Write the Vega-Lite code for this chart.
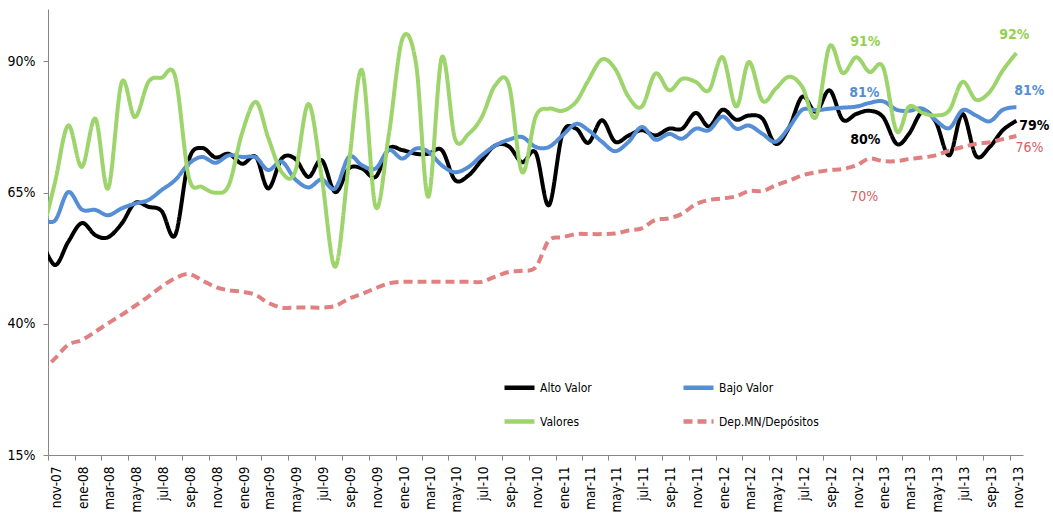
{
  "$schema": "https://vega.github.io/schema/vega-lite/v6.json",
  "width": 975,
  "height": 446,
  "autosize": {"type": "none"},
  "padding": {"left": 48, "top": 9, "right": 30, "bottom": 65},
  "background": "white",
  "config": {
    "view": {"stroke": null},
    "font": "Liberation Sans Narrow, Arial Narrow, DejaVu Sans Condensed, sans-serif"
  },
  "data": {
    "values": [
      {"fecha": "2007-10-01", "serie": "Alto Valor", "valor": 0.560},
      {"fecha": "2007-11-01", "serie": "Alto Valor", "valor": 0.512},
      {"fecha": "2007-12-01", "serie": "Alto Valor", "valor": 0.556},
      {"fecha": "2008-01-01", "serie": "Alto Valor", "valor": 0.592},
      {"fecha": "2008-02-01", "serie": "Alto Valor", "valor": 0.569},
      {"fecha": "2008-03-01", "serie": "Alto Valor", "valor": 0.565},
      {"fecha": "2008-04-01", "serie": "Alto Valor", "valor": 0.591},
      {"fecha": "2008-05-01", "serie": "Alto Valor", "valor": 0.630},
      {"fecha": "2008-06-01", "serie": "Alto Valor", "valor": 0.623},
      {"fecha": "2008-07-01", "serie": "Alto Valor", "valor": 0.615},
      {"fecha": "2008-08-01", "serie": "Alto Valor", "valor": 0.569},
      {"fecha": "2008-09-01", "serie": "Alto Valor", "valor": 0.712},
      {"fecha": "2008-10-01", "serie": "Alto Valor", "valor": 0.735},
      {"fecha": "2008-11-01", "serie": "Alto Valor", "valor": 0.717},
      {"fecha": "2008-12-01", "serie": "Alto Valor", "valor": 0.724},
      {"fecha": "2009-01-01", "serie": "Alto Valor", "valor": 0.705},
      {"fecha": "2009-02-01", "serie": "Alto Valor", "valor": 0.718},
      {"fecha": "2009-03-01", "serie": "Alto Valor", "valor": 0.658},
      {"fecha": "2009-04-01", "serie": "Alto Valor", "valor": 0.715},
      {"fecha": "2009-05-01", "serie": "Alto Valor", "valor": 0.715},
      {"fecha": "2009-06-01", "serie": "Alto Valor", "valor": 0.680},
      {"fecha": "2009-07-01", "serie": "Alto Valor", "valor": 0.712},
      {"fecha": "2009-08-01", "serie": "Alto Valor", "valor": 0.651},
      {"fecha": "2009-09-01", "serie": "Alto Valor", "valor": 0.696},
      {"fecha": "2009-10-01", "serie": "Alto Valor", "valor": 0.696},
      {"fecha": "2009-11-01", "serie": "Alto Valor", "valor": 0.680},
      {"fecha": "2009-12-01", "serie": "Alto Valor", "valor": 0.734},
      {"fecha": "2010-01-01", "serie": "Alto Valor", "valor": 0.731},
      {"fecha": "2010-02-01", "serie": "Alto Valor", "valor": 0.724},
      {"fecha": "2010-03-01", "serie": "Alto Valor", "valor": 0.724},
      {"fecha": "2010-04-01", "serie": "Alto Valor", "valor": 0.731},
      {"fecha": "2010-05-01", "serie": "Alto Valor", "valor": 0.674},
      {"fecha": "2010-06-01", "serie": "Alto Valor", "valor": 0.683},
      {"fecha": "2010-07-01", "serie": "Alto Valor", "valor": 0.712},
      {"fecha": "2010-08-01", "serie": "Alto Valor", "valor": 0.740},
      {"fecha": "2010-09-01", "serie": "Alto Valor", "valor": 0.738},
      {"fecha": "2010-10-01", "serie": "Alto Valor", "valor": 0.708},
      {"fecha": "2010-11-01", "serie": "Alto Valor", "valor": 0.726},
      {"fecha": "2010-12-01", "serie": "Alto Valor", "valor": 0.626},
      {"fecha": "2011-01-01", "serie": "Alto Valor", "valor": 0.762},
      {"fecha": "2011-02-01", "serie": "Alto Valor", "valor": 0.772},
      {"fecha": "2011-03-01", "serie": "Alto Valor", "valor": 0.745},
      {"fecha": "2011-04-01", "serie": "Alto Valor", "valor": 0.788},
      {"fecha": "2011-05-01", "serie": "Alto Valor", "valor": 0.747},
      {"fecha": "2011-06-01", "serie": "Alto Valor", "valor": 0.759},
      {"fecha": "2011-07-01", "serie": "Alto Valor", "valor": 0.769},
      {"fecha": "2011-08-01", "serie": "Alto Valor", "valor": 0.759},
      {"fecha": "2011-09-01", "serie": "Alto Valor", "valor": 0.772},
      {"fecha": "2011-10-01", "serie": "Alto Valor", "valor": 0.772},
      {"fecha": "2011-11-01", "serie": "Alto Valor", "valor": 0.802},
      {"fecha": "2011-12-01", "serie": "Alto Valor", "valor": 0.776},
      {"fecha": "2012-01-01", "serie": "Alto Valor", "valor": 0.808},
      {"fecha": "2012-02-01", "serie": "Alto Valor", "valor": 0.789},
      {"fecha": "2012-03-01", "serie": "Alto Valor", "valor": 0.797},
      {"fecha": "2012-04-01", "serie": "Alto Valor", "valor": 0.791},
      {"fecha": "2012-05-01", "serie": "Alto Valor", "valor": 0.743},
      {"fecha": "2012-06-01", "serie": "Alto Valor", "valor": 0.775},
      {"fecha": "2012-07-01", "serie": "Alto Valor", "valor": 0.833},
      {"fecha": "2012-08-01", "serie": "Alto Valor", "valor": 0.804},
      {"fecha": "2012-09-01", "serie": "Alto Valor", "valor": 0.845},
      {"fecha": "2012-10-01", "serie": "Alto Valor", "valor": 0.789},
      {"fecha": "2012-11-01", "serie": "Alto Valor", "valor": 0.800},
      {"fecha": "2012-12-01", "serie": "Alto Valor", "valor": 0.806},
      {"fecha": "2013-01-01", "serie": "Alto Valor", "valor": 0.794},
      {"fecha": "2013-02-01", "serie": "Alto Valor", "valor": 0.743},
      {"fecha": "2013-03-01", "serie": "Alto Valor", "valor": 0.762},
      {"fecha": "2013-04-01", "serie": "Alto Valor", "valor": 0.805},
      {"fecha": "2013-05-01", "serie": "Alto Valor", "valor": 0.785},
      {"fecha": "2013-06-01", "serie": "Alto Valor", "valor": 0.721},
      {"fecha": "2013-07-01", "serie": "Alto Valor", "valor": 0.800},
      {"fecha": "2013-08-01", "serie": "Alto Valor", "valor": 0.720},
      {"fecha": "2013-09-01", "serie": "Alto Valor", "valor": 0.737},
      {"fecha": "2013-10-01", "serie": "Alto Valor", "valor": 0.769},
      {"fecha": "2013-11-01", "serie": "Alto Valor", "valor": 0.787},

      {"fecha": "2007-10-01", "serie": "Bajo Valor", "valor": 0.600},
      {"fecha": "2007-11-01", "serie": "Bajo Valor", "valor": 0.597},
      {"fecha": "2007-12-01", "serie": "Bajo Valor", "valor": 0.651},
      {"fecha": "2008-01-01", "serie": "Bajo Valor", "valor": 0.618},
      {"fecha": "2008-02-01", "serie": "Bajo Valor", "valor": 0.617},
      {"fecha": "2008-03-01", "serie": "Bajo Valor", "valor": 0.607},
      {"fecha": "2008-04-01", "serie": "Bajo Valor", "valor": 0.620},
      {"fecha": "2008-05-01", "serie": "Bajo Valor", "valor": 0.629},
      {"fecha": "2008-06-01", "serie": "Bajo Valor", "valor": 0.636},
      {"fecha": "2008-07-01", "serie": "Bajo Valor", "valor": 0.655},
      {"fecha": "2008-08-01", "serie": "Bajo Valor", "valor": 0.674},
      {"fecha": "2008-09-01", "serie": "Bajo Valor", "valor": 0.705},
      {"fecha": "2008-10-01", "serie": "Bajo Valor", "valor": 0.718},
      {"fecha": "2008-11-01", "serie": "Bajo Valor", "valor": 0.707},
      {"fecha": "2008-12-01", "serie": "Bajo Valor", "valor": 0.721},
      {"fecha": "2009-01-01", "serie": "Bajo Valor", "valor": 0.718},
      {"fecha": "2009-02-01", "serie": "Bajo Valor", "valor": 0.717},
      {"fecha": "2009-03-01", "serie": "Bajo Valor", "valor": 0.693},
      {"fecha": "2009-04-01", "serie": "Bajo Valor", "valor": 0.709},
      {"fecha": "2009-05-01", "serie": "Bajo Valor", "valor": 0.676},
      {"fecha": "2009-06-01", "serie": "Bajo Valor", "valor": 0.660},
      {"fecha": "2009-07-01", "serie": "Bajo Valor", "valor": 0.675},
      {"fecha": "2009-08-01", "serie": "Bajo Valor", "valor": 0.658},
      {"fecha": "2009-09-01", "serie": "Bajo Valor", "valor": 0.718},
      {"fecha": "2009-10-01", "serie": "Bajo Valor", "valor": 0.702},
      {"fecha": "2009-11-01", "serie": "Bajo Valor", "valor": 0.696},
      {"fecha": "2009-12-01", "serie": "Bajo Valor", "valor": 0.731},
      {"fecha": "2010-01-01", "serie": "Bajo Valor", "valor": 0.715},
      {"fecha": "2010-02-01", "serie": "Bajo Valor", "valor": 0.734},
      {"fecha": "2010-03-01", "serie": "Bajo Valor", "valor": 0.728},
      {"fecha": "2010-04-01", "serie": "Bajo Valor", "valor": 0.702},
      {"fecha": "2010-05-01", "serie": "Bajo Valor", "valor": 0.689},
      {"fecha": "2010-06-01", "serie": "Bajo Valor", "valor": 0.699},
      {"fecha": "2010-07-01", "serie": "Bajo Valor", "valor": 0.721},
      {"fecha": "2010-08-01", "serie": "Bajo Valor", "valor": 0.740},
      {"fecha": "2010-09-01", "serie": "Bajo Valor", "valor": 0.751},
      {"fecha": "2010-10-01", "serie": "Bajo Valor", "valor": 0.756},
      {"fecha": "2010-11-01", "serie": "Bajo Valor", "valor": 0.737},
      {"fecha": "2010-12-01", "serie": "Bajo Valor", "valor": 0.737},
      {"fecha": "2011-01-01", "serie": "Bajo Valor", "valor": 0.759},
      {"fecha": "2011-02-01", "serie": "Bajo Valor", "valor": 0.781},
      {"fecha": "2011-03-01", "serie": "Bajo Valor", "valor": 0.769},
      {"fecha": "2011-04-01", "serie": "Bajo Valor", "valor": 0.747},
      {"fecha": "2011-05-01", "serie": "Bajo Valor", "valor": 0.729},
      {"fecha": "2011-06-01", "serie": "Bajo Valor", "valor": 0.747},
      {"fecha": "2011-07-01", "serie": "Bajo Valor", "valor": 0.775},
      {"fecha": "2011-08-01", "serie": "Bajo Valor", "valor": 0.751},
      {"fecha": "2011-09-01", "serie": "Bajo Valor", "valor": 0.762},
      {"fecha": "2011-10-01", "serie": "Bajo Valor", "valor": 0.753},
      {"fecha": "2011-11-01", "serie": "Bajo Valor", "valor": 0.772},
      {"fecha": "2011-12-01", "serie": "Bajo Valor", "valor": 0.769},
      {"fecha": "2012-01-01", "serie": "Bajo Valor", "valor": 0.795},
      {"fecha": "2012-02-01", "serie": "Bajo Valor", "valor": 0.772},
      {"fecha": "2012-03-01", "serie": "Bajo Valor", "valor": 0.778},
      {"fecha": "2012-04-01", "serie": "Bajo Valor", "valor": 0.762},
      {"fecha": "2012-05-01", "serie": "Bajo Valor", "valor": 0.747},
      {"fecha": "2012-06-01", "serie": "Bajo Valor", "valor": 0.775},
      {"fecha": "2012-07-01", "serie": "Bajo Valor", "valor": 0.808},
      {"fecha": "2012-08-01", "serie": "Bajo Valor", "valor": 0.807},
      {"fecha": "2012-09-01", "serie": "Bajo Valor", "valor": 0.810},
      {"fecha": "2012-10-01", "serie": "Bajo Valor", "valor": 0.812},
      {"fecha": "2012-11-01", "serie": "Bajo Valor", "valor": 0.814},
      {"fecha": "2012-12-01", "serie": "Bajo Valor", "valor": 0.821},
      {"fecha": "2013-01-01", "serie": "Bajo Valor", "valor": 0.824},
      {"fecha": "2013-02-01", "serie": "Bajo Valor", "valor": 0.808},
      {"fecha": "2013-03-01", "serie": "Bajo Valor", "valor": 0.806},
      {"fecha": "2013-04-01", "serie": "Bajo Valor", "valor": 0.810},
      {"fecha": "2013-05-01", "serie": "Bajo Valor", "valor": 0.788},
      {"fecha": "2013-06-01", "serie": "Bajo Valor", "valor": 0.773},
      {"fecha": "2013-07-01", "serie": "Bajo Valor", "valor": 0.807},
      {"fecha": "2013-08-01", "serie": "Bajo Valor", "valor": 0.797},
      {"fecha": "2013-09-01", "serie": "Bajo Valor", "valor": 0.786},
      {"fecha": "2013-10-01", "serie": "Bajo Valor", "valor": 0.808},
      {"fecha": "2013-11-01", "serie": "Bajo Valor", "valor": 0.813},

      {"fecha": "2007-10-01", "serie": "Valores", "valor": 0.565},
      {"fecha": "2007-11-01", "serie": "Valores", "valor": 0.670},
      {"fecha": "2007-12-01", "serie": "Valores", "valor": 0.778},
      {"fecha": "2008-01-01", "serie": "Valores", "valor": 0.699},
      {"fecha": "2008-02-01", "serie": "Valores", "valor": 0.791},
      {"fecha": "2008-03-01", "serie": "Valores", "valor": 0.658},
      {"fecha": "2008-04-01", "serie": "Valores", "valor": 0.860},
      {"fecha": "2008-05-01", "serie": "Valores", "valor": 0.794},
      {"fecha": "2008-06-01", "serie": "Valores", "valor": 0.861},
      {"fecha": "2008-07-01", "serie": "Valores", "valor": 0.869},
      {"fecha": "2008-08-01", "serie": "Valores", "valor": 0.871},
      {"fecha": "2008-09-01", "serie": "Valores", "valor": 0.680},
      {"fecha": "2008-10-01", "serie": "Valores", "valor": 0.661},
      {"fecha": "2008-11-01", "serie": "Valores", "valor": 0.650},
      {"fecha": "2008-12-01", "serie": "Valores", "valor": 0.664},
      {"fecha": "2009-01-01", "serie": "Valores", "valor": 0.765},
      {"fecha": "2009-02-01", "serie": "Valores", "valor": 0.823},
      {"fecha": "2009-03-01", "serie": "Valores", "valor": 0.755},
      {"fecha": "2009-04-01", "serie": "Valores", "valor": 0.689},
      {"fecha": "2009-05-01", "serie": "Valores", "valor": 0.689},
      {"fecha": "2009-06-01", "serie": "Valores", "valor": 0.819},
      {"fecha": "2009-07-01", "serie": "Valores", "valor": 0.680},
      {"fecha": "2009-08-01", "serie": "Valores", "valor": 0.509},
      {"fecha": "2009-09-01", "serie": "Valores", "valor": 0.705},
      {"fecha": "2009-10-01", "serie": "Valores", "valor": 0.883},
      {"fecha": "2009-11-01", "serie": "Valores", "valor": 0.623},
      {"fecha": "2009-12-01", "serie": "Valores", "valor": 0.760},
      {"fecha": "2010-01-01", "serie": "Valores", "valor": 0.943},
      {"fecha": "2010-02-01", "serie": "Valores", "valor": 0.896},
      {"fecha": "2010-03-01", "serie": "Valores", "valor": 0.642},
      {"fecha": "2010-04-01", "serie": "Valores", "valor": 0.908},
      {"fecha": "2010-05-01", "serie": "Valores", "valor": 0.753},
      {"fecha": "2010-06-01", "serie": "Valores", "valor": 0.762},
      {"fecha": "2010-07-01", "serie": "Valores", "valor": 0.794},
      {"fecha": "2010-08-01", "serie": "Valores", "valor": 0.855},
      {"fecha": "2010-09-01", "serie": "Valores", "valor": 0.855},
      {"fecha": "2010-10-01", "serie": "Valores", "valor": 0.689},
      {"fecha": "2010-11-01", "serie": "Valores", "valor": 0.795},
      {"fecha": "2010-12-01", "serie": "Valores", "valor": 0.810},
      {"fecha": "2011-01-01", "serie": "Valores", "valor": 0.806},
      {"fecha": "2011-02-01", "serie": "Valores", "valor": 0.823},
      {"fecha": "2011-03-01", "serie": "Valores", "valor": 0.864},
      {"fecha": "2011-04-01", "serie": "Valores", "valor": 0.904},
      {"fecha": "2011-05-01", "serie": "Valores", "valor": 0.886},
      {"fecha": "2011-06-01", "serie": "Valores", "valor": 0.832},
      {"fecha": "2011-07-01", "serie": "Valores", "valor": 0.814},
      {"fecha": "2011-08-01", "serie": "Valores", "valor": 0.877},
      {"fecha": "2011-09-01", "serie": "Valores", "valor": 0.845},
      {"fecha": "2011-10-01", "serie": "Valores", "valor": 0.867},
      {"fecha": "2011-11-01", "serie": "Valores", "valor": 0.861},
      {"fecha": "2011-12-01", "serie": "Valores", "valor": 0.845},
      {"fecha": "2012-01-01", "serie": "Valores", "valor": 0.908},
      {"fecha": "2012-02-01", "serie": "Valores", "valor": 0.814},
      {"fecha": "2012-03-01", "serie": "Valores", "valor": 0.899},
      {"fecha": "2012-04-01", "serie": "Valores", "valor": 0.825},
      {"fecha": "2012-05-01", "serie": "Valores", "valor": 0.848},
      {"fecha": "2012-06-01", "serie": "Valores", "valor": 0.871},
      {"fecha": "2012-07-01", "serie": "Valores", "valor": 0.851},
      {"fecha": "2012-08-01", "serie": "Valores", "valor": 0.794},
      {"fecha": "2012-09-01", "serie": "Valores", "valor": 0.929},
      {"fecha": "2012-10-01", "serie": "Valores", "valor": 0.878},
      {"fecha": "2012-11-01", "serie": "Valores", "valor": 0.908},
      {"fecha": "2012-12-01", "serie": "Valores", "valor": 0.880},
      {"fecha": "2013-01-01", "serie": "Valores", "valor": 0.889},
      {"fecha": "2013-02-01", "serie": "Valores", "valor": 0.767},
      {"fecha": "2013-03-01", "serie": "Valores", "valor": 0.814},
      {"fecha": "2013-04-01", "serie": "Valores", "valor": 0.802},
      {"fecha": "2013-05-01", "serie": "Valores", "valor": 0.797},
      {"fecha": "2013-06-01", "serie": "Valores", "valor": 0.807},
      {"fecha": "2013-07-01", "serie": "Valores", "valor": 0.861},
      {"fecha": "2013-08-01", "serie": "Valores", "valor": 0.827},
      {"fecha": "2013-09-01", "serie": "Valores", "valor": 0.842},
      {"fecha": "2013-10-01", "serie": "Valores", "valor": 0.883},
      {"fecha": "2013-11-01", "serie": "Valores", "valor": 0.916},

      {"fecha": "2007-10-01", "serie": "Dep.MN/Depósitos", "valor": 0.308},
      {"fecha": "2007-11-01", "serie": "Dep.MN/Depósitos", "valor": 0.334},
      {"fecha": "2007-12-01", "serie": "Dep.MN/Depósitos", "valor": 0.360},
      {"fecha": "2008-01-01", "serie": "Dep.MN/Depósitos", "valor": 0.369},
      {"fecha": "2008-02-01", "serie": "Dep.MN/Depósitos", "valor": 0.385},
      {"fecha": "2008-03-01", "serie": "Dep.MN/Depósitos", "valor": 0.401},
      {"fecha": "2008-04-01", "serie": "Dep.MN/Depósitos", "valor": 0.417},
      {"fecha": "2008-05-01", "serie": "Dep.MN/Depósitos", "valor": 0.434},
      {"fecha": "2008-06-01", "serie": "Dep.MN/Depósitos", "valor": 0.452},
      {"fecha": "2008-07-01", "serie": "Dep.MN/Depósitos", "valor": 0.471},
      {"fecha": "2008-08-01", "serie": "Dep.MN/Depósitos", "valor": 0.487},
      {"fecha": "2008-09-01", "serie": "Dep.MN/Depósitos", "valor": 0.495},
      {"fecha": "2008-10-01", "serie": "Dep.MN/Depósitos", "valor": 0.483},
      {"fecha": "2008-11-01", "serie": "Dep.MN/Depósitos", "valor": 0.470},
      {"fecha": "2008-12-01", "serie": "Dep.MN/Depósitos", "valor": 0.464},
      {"fecha": "2009-01-01", "serie": "Dep.MN/Depósitos", "valor": 0.461},
      {"fecha": "2009-02-01", "serie": "Dep.MN/Depósitos", "valor": 0.455},
      {"fecha": "2009-03-01", "serie": "Dep.MN/Depósitos", "valor": 0.440},
      {"fecha": "2009-04-01", "serie": "Dep.MN/Depósitos", "valor": 0.431},
      {"fecha": "2009-05-01", "serie": "Dep.MN/Depósitos", "valor": 0.431},
      {"fecha": "2009-06-01", "serie": "Dep.MN/Depósitos", "valor": 0.431},
      {"fecha": "2009-07-01", "serie": "Dep.MN/Depósitos", "valor": 0.431},
      {"fecha": "2009-08-01", "serie": "Dep.MN/Depósitos", "valor": 0.434},
      {"fecha": "2009-09-01", "serie": "Dep.MN/Depósitos", "valor": 0.448},
      {"fecha": "2009-10-01", "serie": "Dep.MN/Depósitos", "valor": 0.457},
      {"fecha": "2009-11-01", "serie": "Dep.MN/Depósitos", "valor": 0.468},
      {"fecha": "2009-12-01", "serie": "Dep.MN/Depósitos", "valor": 0.477},
      {"fecha": "2010-01-01", "serie": "Dep.MN/Depósitos", "valor": 0.480},
      {"fecha": "2010-02-01", "serie": "Dep.MN/Depósitos", "valor": 0.480},
      {"fecha": "2010-03-01", "serie": "Dep.MN/Depósitos", "valor": 0.480},
      {"fecha": "2010-04-01", "serie": "Dep.MN/Depósitos", "valor": 0.480},
      {"fecha": "2010-05-01", "serie": "Dep.MN/Depósitos", "valor": 0.480},
      {"fecha": "2010-06-01", "serie": "Dep.MN/Depósitos", "valor": 0.480},
      {"fecha": "2010-07-01", "serie": "Dep.MN/Depósitos", "valor": 0.480},
      {"fecha": "2010-08-01", "serie": "Dep.MN/Depósitos", "valor": 0.490},
      {"fecha": "2010-09-01", "serie": "Dep.MN/Depósitos", "valor": 0.499},
      {"fecha": "2010-10-01", "serie": "Dep.MN/Depósitos", "valor": 0.501},
      {"fecha": "2010-11-01", "serie": "Dep.MN/Depósitos", "valor": 0.508},
      {"fecha": "2010-12-01", "serie": "Dep.MN/Depósitos", "valor": 0.559},
      {"fecha": "2011-01-01", "serie": "Dep.MN/Depósitos", "valor": 0.565},
      {"fecha": "2011-02-01", "serie": "Dep.MN/Depósitos", "valor": 0.571},
      {"fecha": "2011-03-01", "serie": "Dep.MN/Depósitos", "valor": 0.571},
      {"fecha": "2011-04-01", "serie": "Dep.MN/Depósitos", "valor": 0.571},
      {"fecha": "2011-05-01", "serie": "Dep.MN/Depósitos", "valor": 0.572},
      {"fecha": "2011-06-01", "serie": "Dep.MN/Depósitos", "valor": 0.578},
      {"fecha": "2011-07-01", "serie": "Dep.MN/Depósitos", "valor": 0.582},
      {"fecha": "2011-08-01", "serie": "Dep.MN/Depósitos", "valor": 0.598},
      {"fecha": "2011-09-01", "serie": "Dep.MN/Depósitos", "valor": 0.601},
      {"fecha": "2011-10-01", "serie": "Dep.MN/Depósitos", "valor": 0.610},
      {"fecha": "2011-11-01", "serie": "Dep.MN/Depósitos", "valor": 0.628},
      {"fecha": "2011-12-01", "serie": "Dep.MN/Depósitos", "valor": 0.636},
      {"fecha": "2012-01-01", "serie": "Dep.MN/Depósitos", "valor": 0.639},
      {"fecha": "2012-02-01", "serie": "Dep.MN/Depósitos", "valor": 0.643},
      {"fecha": "2012-03-01", "serie": "Dep.MN/Depósitos", "valor": 0.653},
      {"fecha": "2012-04-01", "serie": "Dep.MN/Depósitos", "valor": 0.653},
      {"fecha": "2012-05-01", "serie": "Dep.MN/Depósitos", "valor": 0.664},
      {"fecha": "2012-06-01", "serie": "Dep.MN/Depósitos", "valor": 0.673},
      {"fecha": "2012-07-01", "serie": "Dep.MN/Depósitos", "valor": 0.683},
      {"fecha": "2012-08-01", "serie": "Dep.MN/Depósitos", "valor": 0.689},
      {"fecha": "2012-09-01", "serie": "Dep.MN/Depósitos", "valor": 0.693},
      {"fecha": "2012-10-01", "serie": "Dep.MN/Depósitos", "valor": 0.695},
      {"fecha": "2012-11-01", "serie": "Dep.MN/Depósitos", "valor": 0.702},
      {"fecha": "2012-12-01", "serie": "Dep.MN/Depósitos", "valor": 0.715},
      {"fecha": "2013-01-01", "serie": "Dep.MN/Depósitos", "valor": 0.710},
      {"fecha": "2013-02-01", "serie": "Dep.MN/Depósitos", "valor": 0.710},
      {"fecha": "2013-03-01", "serie": "Dep.MN/Depósitos", "valor": 0.714},
      {"fecha": "2013-04-01", "serie": "Dep.MN/Depósitos", "valor": 0.717},
      {"fecha": "2013-05-01", "serie": "Dep.MN/Depósitos", "valor": 0.721},
      {"fecha": "2013-06-01", "serie": "Dep.MN/Depósitos", "valor": 0.730},
      {"fecha": "2013-07-01", "serie": "Dep.MN/Depósitos", "valor": 0.737},
      {"fecha": "2013-08-01", "serie": "Dep.MN/Depósitos", "valor": 0.743},
      {"fecha": "2013-09-01", "serie": "Dep.MN/Depósitos", "valor": 0.746},
      {"fecha": "2013-10-01", "serie": "Dep.MN/Depósitos", "valor": 0.752},
      {"fecha": "2013-11-01", "serie": "Dep.MN/Depósitos", "valor": 0.758}
    ]
  },
  "encoding": {
    "x": {
      "field": "fecha",
      "type": "temporal",
      "scale": {
        "type": "utc",
        "nice": false,
        "domain": [
          {"year": 2007, "month": 10, "date": 16, "utc": true},
          {"year": 2013, "month": 11, "date": 16, "utc": true}
        ]
      },
      "axis": {
        "title": null,
        "grid": false,
        "tickCount": {"interval": "month", "step": 2},
        "labelExpr": "['ene','feb','mar','abr','may','jun','jul','ago','sep','oct','nov','dic'][utcmonth(datum.value)] + '-' + utcFormat(datum.value, '%y')",
        "labelAngle": 270,
        "labelFontSize": 13.5,
        "labelColor": "#000000",
        "labelPadding": 6,
        "labelOverlap": false,
        "labelFlush": false,
        "labelBound": false,
        "tickSize": 5,
        "tickOffset": -6.7,
        "labelOffset": 8.5,
        "domainColor": "#868686",
        "tickColor": "#868686"
      }
    },
    "y": {
      "field": "valor",
      "type": "quantitative",
      "scale": {"domain": [0.15, 1.0], "nice": false, "zero": false},
      "axis": {
        "title": null,
        "grid": false,
        "values": [0.15, 0.4, 0.65, 0.9],
        "format": ".0%",
        "labelFontSize": 14,
        "labelColor": "#000000",
        "labelPadding": 8,
        "tickSize": 5,
        "domainColor": "#868686",
        "tickColor": "#868686"
      }
    }
  },
  "layer": [
    {
      "mark": {"type": "line", "interpolate": "cardinal", "tension": 0, "strokeWidth": 4, "clip": true},
      "encoding": {
        "color": {
          "field": "serie",
          "type": "nominal",
          "scale": {
            "domain": ["Alto Valor", "Valores", "Bajo Valor", "Dep.MN/Depósitos"],
            "range": ["#000000", "#9DD56C", "#558ED5", "#E08080"]
          },
          "legend": {
            "title": null,
            "orient": "none",
            "legendX": 454,
            "legendY": 361,
            "columns": 2,
            "symbolType": "stroke",
            "symbolSize": 900,
            "symbolStrokeWidth": 4.5,
            "labelFontSize": 12,
            "labelColor": "#000000",
            "labelOffset": 3,
            "columnPadding": 82,
            "rowPadding": 7
          }
        },
        "strokeDash": {
          "field": "serie",
          "type": "nominal",
          "scale": {
            "domain": ["Alto Valor", "Valores", "Bajo Valor", "Dep.MN/Depósitos"],
            "range": [[1, 0], [1, 0], [1, 0], [9, 5]]
          },
          "legend": {
            "title": null,
            "orient": "none",
            "legendX": 454,
            "legendY": 361,
            "columns": 2,
            "symbolType": "stroke",
            "symbolSize": 900,
            "symbolStrokeWidth": 4.5,
            "labelFontSize": 12,
            "labelColor": "#000000",
            "labelOffset": 3,
            "columnPadding": 82,
            "rowPadding": 7
          }
        }
      }
    },
    {
      "transform": [{"filter": "datum.serie === 'Valores' && utcyear(datum.fecha) === 2012 && utcmonth(datum.fecha) === 10"}],
      "mark": {"type": "text", "dx": 9, "dy": -15, "fontSize": 14, "fontWeight": "bold", "color": "#92D050"},
      "encoding": {"text": {"field": "valor", "type": "quantitative", "format": ".0%"}}
    },
    {
      "transform": [{"filter": "datum.serie === 'Bajo Valor' && utcyear(datum.fecha) === 2012 && utcmonth(datum.fecha) === 10"}],
      "mark": {"type": "text", "dx": 8, "dy": -14, "fontSize": 14, "fontWeight": "bold", "color": "#558ED5"},
      "encoding": {"text": {"field": "valor", "type": "quantitative", "format": ".0%"}}
    },
    {
      "transform": [{"filter": "datum.serie === 'Alto Valor' && utcyear(datum.fecha) === 2012 && utcmonth(datum.fecha) === 10"}],
      "mark": {"type": "text", "dx": 9, "dy": 26, "fontSize": 14, "fontWeight": "bold", "color": "#000000"},
      "encoding": {"text": {"field": "valor", "type": "quantitative", "format": ".0%"}}
    },
    {
      "transform": [{"filter": "datum.serie === 'Dep.MN/Depósitos' && utcyear(datum.fecha) === 2012 && utcmonth(datum.fecha) === 10"}],
      "mark": {"type": "text", "dx": 8, "dy": 32, "fontSize": 14, "color": "#D9605F"},
      "encoding": {"text": {"field": "valor", "type": "quantitative", "format": ".0%"}}
    },
    {
      "transform": [{"filter": "datum.serie === 'Valores' && utcyear(datum.fecha) === 2013 && utcmonth(datum.fecha) === 10"}],
      "mark": {"type": "text", "dx": -2, "dy": -18, "fontSize": 14, "fontWeight": "bold", "color": "#92D050"},
      "encoding": {"text": {"field": "valor", "type": "quantitative", "format": ".0%"}}
    },
    {
      "transform": [{"filter": "datum.serie === 'Bajo Valor' && utcyear(datum.fecha) === 2013 && utcmonth(datum.fecha) === 10"}],
      "mark": {"type": "text", "dx": 13, "dy": -16, "fontSize": 14, "fontWeight": "bold", "color": "#558ED5"},
      "encoding": {"text": {"field": "valor", "type": "quantitative", "format": ".0%"}}
    },
    {
      "transform": [{"filter": "datum.serie === 'Alto Valor' && utcyear(datum.fecha) === 2013 && utcmonth(datum.fecha) === 10"}],
      "mark": {"type": "text", "dx": 18, "dy": 5, "fontSize": 14, "fontWeight": "bold", "color": "#000000"},
      "encoding": {"text": {"field": "valor", "type": "quantitative", "format": ".0%"}}
    },
    {
      "transform": [{"filter": "datum.serie === 'Dep.MN/Depósitos' && utcyear(datum.fecha) === 2013 && utcmonth(datum.fecha) === 10"}],
      "mark": {"type": "text", "dx": 13, "dy": 12, "fontSize": 14, "color": "#D9605F"},
      "encoding": {"text": {"field": "valor", "type": "quantitative", "format": ".0%"}}
    }
  ]
}
